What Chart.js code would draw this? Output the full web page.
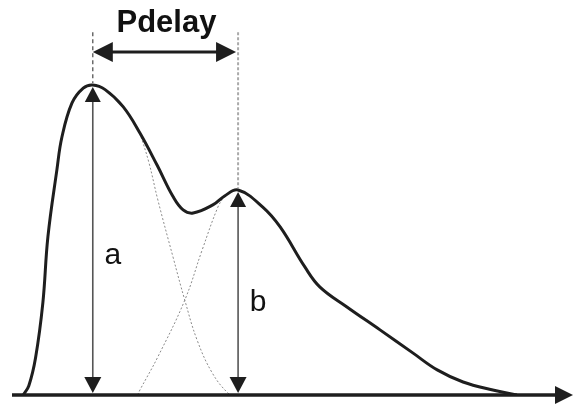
<!DOCTYPE html>
<html>
<head>
<meta charset="utf-8">
<script src="https://cdn.jsdelivr.net/npm/chart.js@4"></script>
<style>
  html, body { margin: 0; padding: 0; background: #fff; }
  #wrap { width: 573px; height: 409px; }
</style>
</head>
<body>
<div id="wrap"><canvas id="peaks" width="573" height="409"></canvas></div>
<script>
// summed response (thick curve)
var sumTime = [2.0, 3.0, 4.2, 5.5, 6.4, 8.0, 8.9, 10.7, 12.7, 14.4, 16.6, 19.8, 22.8, 25.9, 28.7, 30.5, 32.3, 35.8, 37.9, 40.3, 44.7, 47.8, 52.2, 54.9, 59.7, 65.6, 71.5, 75.8, 80.4, 85.7, 90.0];
var sumAmp  = [0, 3.0, 12.0, 29.7, 51.0, 72.6, 83.2, 94.2, 99.0, 100, 98.5, 93.0, 84.5, 74.0, 64.0, 59.7, 58.7, 61.3, 64.2, 66.1, 60.6, 54.2, 41.3, 34.8, 28.4, 21.0, 13.5, 8.1, 4.2, 1.6, 0];

// first component, where it leaves the summed curve
var firstTime = [22.8, 24.4, 26.0, 28.7, 30.8, 33.0, 35.7, 38.5, 39.6];
var firstAmp  = [84.5, 75.0, 62.9, 44.5, 30.6, 17.7, 7.1, 0.6, 0];

// second component, rising until it joins the summed curve
var secondTime = [22.4, 22.8, 26.0, 30.8, 33.9, 36.7, 37.9];
var secondAmp  = [0, 1.6, 12.3, 30.6, 46.8, 60.6, 64.2];

// peak positions and their labels
var peakTime = [14.4, 40.3];
var peakAmp = [100, 66.1];
var peakNames = ['a', 'b'];
var delayName = 'Pdelay';

var ink = '#1e1e1e';

function pairs(xs, ys) {
  return xs.map(function(x, i) { return { x: x, y: ys[i] }; });
}

function arrowHead(ctx, x, y, dx, dy, len, half) {
  // tip at (x, y), pointing along (dx, dy)
  var bx = x - dx * len, by = y - dy * len;
  ctx.beginPath();
  ctx.moveTo(x, y);
  ctx.lineTo(bx - dy * half, by + dx * half);
  ctx.lineTo(bx + dy * half, by - dx * half);
  ctx.closePath();
  ctx.fill();
}

function segment(ctx, x1, y1, x2, y2) {
  ctx.beginPath();
  ctx.moveTo(x1, y1);
  ctx.lineTo(x2, y2);
  ctx.stroke();
}

var annotate = {
  id: 'annotate',
  afterDatasetsDraw: function(chart) {
    var ctx = chart.ctx;
    var sx = chart.scales.x, sy = chart.scales.y, area = chart.chartArea;
    var base = sy.getPixelForValue(0);
    var guideTop = sy.getPixelForValue(117);
    var delayY = sy.getPixelForValue(110.6);
    var guideColors = ['#555', '#aaa'];
    var guideDash = [[4, 3], [3, 2]];
    var guideWidth = [1.3, 2];

    ctx.save();
    ctx.fillStyle = ink;
    ctx.strokeStyle = ink;

    // time axis with arrow
    ctx.lineWidth = 3.5;
    segment(ctx, area.left, base, area.right - 14, base);
    arrowHead(ctx, area.right, base, 1, 0, 18, 9);

    var px = peakTime.map(function(t) { return sx.getPixelForValue(t); });

    peakTime.forEach(function(t, i) {
      var x = px[i];
      var top = sy.getPixelForValue(peakAmp[i]);

      // dashed guide above the peak
      ctx.save();
      ctx.strokeStyle = guideColors[i];
      ctx.lineWidth = guideWidth[i];
      ctx.setLineDash(guideDash[i]);
      segment(ctx, x, guideTop, x, top - 2);
      ctx.restore();

      // height arrow from baseline to peak
      ctx.save();
      ctx.strokeStyle = '#555';
      ctx.lineWidth = 1.6;
      segment(ctx, x, top + 10, x, base - 10);
      ctx.restore();
      arrowHead(ctx, x, top + 2, 0, -1, 15, 8);
      arrowHead(ctx, x, base - 2, 0, 1, 16, 8.5);

      ctx.font = '30px "Liberation Sans", Arial, sans-serif';
      ctx.textAlign = 'center';
      ctx.textBaseline = 'middle';
      ctx.fillStyle = '#111';
      ctx.fillText(peakNames[i], x + 20, sy.getPixelForValue(peakAmp[i] * 0.45));
      ctx.fillStyle = ink;
    });

    // delay between the peaks
    ctx.lineWidth = 3;
    segment(ctx, px[0] + 12, delayY, px[1] - 12, delayY);
    arrowHead(ctx, px[0], delayY, -1, 0, 20, 10);
    arrowHead(ctx, px[1] - 2, delayY, 1, 0, 20, 10);

    ctx.font = 'bold 31px "Liberation Sans", Arial, sans-serif';
    ctx.textAlign = 'center';
    ctx.textBaseline = 'alphabetic';
    ctx.fillStyle = '#111';
    ctx.fillText(delayName, (px[0] + px[1]) / 2 + 1, guideTop);

    ctx.restore();
  }
};

new Chart(document.getElementById('peaks'), {
  type: 'line',
  data: {
    datasets: [{
      label: 'sum',
      data: pairs(sumTime, sumAmp),
      borderColor: ink,
      borderWidth: 3,
      tension: 0.4,
      pointRadius: 0,
      fill: false,
      order: 0
    }, {
      label: 'first',
      data: pairs(firstTime, firstAmp),
      borderColor: '#8a8a8a',
      borderWidth: 1,
      borderDash: [2, 2],
      tension: 0.4,
      pointRadius: 0,
      fill: false,
      order: 1
    }, {
      label: 'second',
      data: pairs(secondTime, secondAmp),
      borderColor: '#8a8a8a',
      borderWidth: 1,
      borderDash: [2, 2],
      tension: 0.4,
      pointRadius: 0,
      fill: false,
      order: 1
    }]
  },
  options: {
    responsive: false,
    animation: false,
    layout: { padding: { left: 12, right: 0, top: 0, bottom: 14 } },
    plugins: { legend: { display: false }, tooltip: { enabled: false } },
    scales: {
      x: { type: 'linear', min: 0, max: 100, display: false },
      y: { min: 0, max: 127.4, display: false }
    }
  },
  plugins: [annotate]
});
</script>
</body>
</html>
